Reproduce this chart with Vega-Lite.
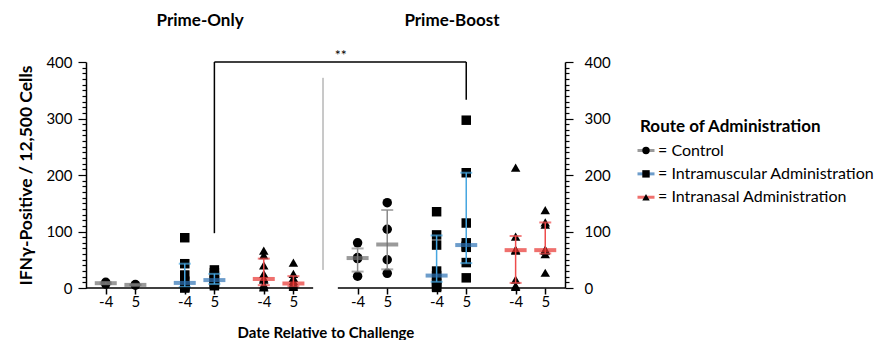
{
  "$schema": "https://vega.github.io/schema/vega-lite/v6.json",
  "background": "white",
  "padding": {"left": 17, "top": 11, "right": 0, "bottom": 0},
  "config": {"font": "Lato", "view": {"stroke": null}, "concat": {"spacing": 20}},
  "datasets": {
    "points": [
      {"grp": "PO|C|-4", "route": "Control", "value": 10},
      {"grp": "PO|C|-4", "route": "Control", "value": 7},
      {"grp": "PO|C|5", "route": "Control", "value": 6},
      {"grp": "PO|C|5", "route": "Control", "value": 5},
      {"grp": "PO|IM|-4", "route": "IM", "value": 89},
      {"grp": "PO|IM|-4", "route": "IM", "value": 43},
      {"grp": "PO|IM|-4", "route": "IM", "value": 23},
      {"grp": "PO|IM|-4", "route": "IM", "value": 12},
      {"grp": "PO|IM|-4", "route": "IM", "value": 5},
      {"grp": "PO|IM|-4", "route": "IM", "value": 3},
      {"grp": "PO|IM|-4", "route": "IM", "value": 1},
      {"grp": "PO|IM|-4", "route": "IM", "value": 0},
      {"grp": "PO|IM|5", "route": "IM", "value": 32},
      {"grp": "PO|IM|5", "route": "IM", "value": 27},
      {"grp": "PO|IM|5", "route": "IM", "value": 22},
      {"grp": "PO|IM|5", "route": "IM", "value": 15},
      {"grp": "PO|IM|5", "route": "IM", "value": 13},
      {"grp": "PO|IM|5", "route": "IM", "value": 10},
      {"grp": "PO|IM|5", "route": "IM", "value": 7},
      {"grp": "PO|IM|5", "route": "IM", "value": 4},
      {"grp": "PO|IN|-4", "route": "IN", "value": 66},
      {"grp": "PO|IN|-4", "route": "IN", "value": 58},
      {"grp": "PO|IN|-4", "route": "IN", "value": 40},
      {"grp": "PO|IN|-4", "route": "IN", "value": 25},
      {"grp": "PO|IN|-4", "route": "IN", "value": 17},
      {"grp": "PO|IN|-4", "route": "IN", "value": 15},
      {"grp": "PO|IN|-4", "route": "IN", "value": 6},
      {"grp": "PO|IN|-4", "route": "IN", "value": 3},
      {"grp": "PO|IN|-4", "route": "IN", "value": 1},
      {"grp": "PO|IN|5", "route": "IN", "value": 45},
      {"grp": "PO|IN|5", "route": "IN", "value": 25},
      {"grp": "PO|IN|5", "route": "IN", "value": 18},
      {"grp": "PO|IN|5", "route": "IN", "value": 12},
      {"grp": "PO|IN|5", "route": "IN", "value": 8},
      {"grp": "PO|IN|5", "route": "IN", "value": 6},
      {"grp": "PO|IN|5", "route": "IN", "value": 4},
      {"grp": "PO|IN|5", "route": "IN", "value": 2},
      {"grp": "PB|C|-4", "route": "Control", "value": 80},
      {"grp": "PB|C|-4", "route": "Control", "value": 54},
      {"grp": "PB|C|-4", "route": "Control", "value": 52},
      {"grp": "PB|C|-4", "route": "Control", "value": 21},
      {"grp": "PB|C|5", "route": "Control", "value": 151},
      {"grp": "PB|C|5", "route": "Control", "value": 104},
      {"grp": "PB|C|5", "route": "Control", "value": 50},
      {"grp": "PB|C|5", "route": "Control", "value": 26},
      {"grp": "PB|IM|-4", "route": "IM", "value": 135},
      {"grp": "PB|IM|-4", "route": "IM", "value": 94},
      {"grp": "PB|IM|-4", "route": "IM", "value": 76},
      {"grp": "PB|IM|-4", "route": "IM", "value": 30},
      {"grp": "PB|IM|-4", "route": "IM", "value": 22},
      {"grp": "PB|IM|-4", "route": "IM", "value": 15},
      {"grp": "PB|IM|-4", "route": "IM", "value": 8},
      {"grp": "PB|IM|-4", "route": "IM", "value": 3},
      {"grp": "PB|IM|-4", "route": "IM", "value": 1},
      {"grp": "PB|IM|5", "route": "IM", "value": 297},
      {"grp": "PB|IM|5", "route": "IM", "value": 204},
      {"grp": "PB|IM|5", "route": "IM", "value": 115},
      {"grp": "PB|IM|5", "route": "IM", "value": 80},
      {"grp": "PB|IM|5", "route": "IM", "value": 74},
      {"grp": "PB|IM|5", "route": "IM", "value": 72},
      {"grp": "PB|IM|5", "route": "IM", "value": 45},
      {"grp": "PB|IM|5", "route": "IM", "value": 18},
      {"grp": "PB|IN|-4", "route": "IN", "value": 213},
      {"grp": "PB|IN|-4", "route": "IN", "value": 91},
      {"grp": "PB|IN|-4", "route": "IN", "value": 68},
      {"grp": "PB|IN|-4", "route": "IN", "value": 66},
      {"grp": "PB|IN|-4", "route": "IN", "value": 15},
      {"grp": "PB|IN|-4", "route": "IN", "value": 4},
      {"grp": "PB|IN|-4", "route": "IN", "value": 2},
      {"grp": "PB|IN|5", "route": "IN", "value": 138},
      {"grp": "PB|IN|5", "route": "IN", "value": 116},
      {"grp": "PB|IN|5", "route": "IN", "value": 112},
      {"grp": "PB|IN|5", "route": "IN", "value": 68},
      {"grp": "PB|IN|5", "route": "IN", "value": 67},
      {"grp": "PB|IN|5", "route": "IN", "value": 66},
      {"grp": "PB|IN|5", "route": "IN", "value": 60},
      {"grp": "PB|IN|5", "route": "IN", "value": 27}
    ],
    "summary": [
      {"grp": "PO|C|-4", "route": "Control", "median": 8.5, "lo": 7, "hi": 10},
      {"grp": "PO|C|5", "route": "Control", "median": 5.5, "lo": 5, "hi": 6},
      {"grp": "PO|IM|-4", "route": "IM", "median": 9, "lo": 2, "hi": 43},
      {"grp": "PO|IM|5", "route": "IM", "median": 14, "lo": 7, "hi": 25},
      {"grp": "PO|IN|-4", "route": "IN", "median": 16, "lo": 5, "hi": 52},
      {"grp": "PO|IN|5", "route": "IN", "median": 8, "lo": 3, "hi": 21},
      {"grp": "PB|C|-4", "route": "Control", "median": 53, "lo": 29, "hi": 70},
      {"grp": "PB|C|5", "route": "Control", "median": 77, "lo": 33, "hi": 138},
      {"grp": "PB|IM|-4", "route": "IM", "median": 22, "lo": 11, "hi": 93},
      {"grp": "PB|IM|5", "route": "IM", "median": 76, "lo": 44, "hi": 204},
      {"grp": "PB|IN|-4", "route": "IN", "median": 67, "lo": 9, "hi": 92},
      {"grp": "PB|IN|5", "route": "IN", "median": 67, "lo": 61, "hi": 116}
    ],
    "lines": [
      {"kind": "axis", "grp": "s0", "grp2": "s46", "lo": 0, "hi": 0},
      {"kind": "axis", "grp": "s51", "grp2": "s97", "lo": 0, "hi": 0},
      {"kind": "divider", "grp": "s48", "grp2": "s48", "lo": 32, "hi": 372},
      {"kind": "bracket", "grp": "PO|IM|5", "grp2": "PO|IM|5", "lo": 97, "hi": 400},
      {"kind": "bracket", "grp": "PO|IM|5", "grp2": "PB|IM|5", "lo": 400, "hi": 400},
      {"kind": "bracket", "grp": "PB|IM|5", "grp2": "PB|IM|5", "lo": 333, "hi": 400}
    ],
    "stars": [{"grp": "s52", "value": 400, "text": "**"}],
    "legend": [
      {"route": "Control", "label": "= Control"},
      {"route": "IM", "label": "= Intramuscular Administration"},
      {"route": "IN", "label": "= Intranasal Administration"}
    ],
    "legendTitle": [{"route": "T", "label": "Route of Administration"}]
  },
  "hconcat": [
    {
      "width": 479,
      "height": 226,
      "layer": [
        {
          "data": {"name": "points"},
          "mark": {"type": "point", "filled": true, "opacity": 1, "color": "black"},
          "encoding": {
            "x": {
              "field": "grp", "type": "nominal",
              "scale": {"type": "point", "padding": 0, "domain": ["s0","s1","s2","s3","PO|C|-4","s5","s6","s7","s8","s9","PO|C|5","s11","s12","s13","s14","s15","s16","s17","s18","s19","PO|IM|-4","s21","s22","s23","s24","s25","PO|IM|5","s27","s28","s29","s30","s31","s32","s33","s34","s35","PO|IN|-4","s37","s38","s39","s40","s41","PO|IN|5","s43","s44","s45","s46","s47","s48","s49","s50","s51","s52","s53","s54","PB|C|-4","s56","s57","s58","s59","s60","PB|C|5","s62","s63","s64","s65","s66","s67","s68","s69","s70","PB|IM|-4","s72","s73","s74","s75","s76","PB|IM|5","s78","s79","s80","s81","s82","s83","s84","s85","s86","PB|IN|-4","s88","s89","s90","s91","s92","PB|IN|5","s94","s95","s96","s97"]},
              "axis": {
                "orient": "bottom",
                "values": ["PO|C|-4","PO|C|5","PO|IM|-4","PO|IM|5","PO|IN|-4","PO|IN|5","PB|C|-4","PB|C|5","PB|IM|-4","PB|IM|5","PB|IN|-4","PB|IN|5"],
                "labelExpr": "split(datum.value, '|')[2]",
                "domain": false, "ticks": true, "tickSize": 6, "tickWidth": 1.5, "tickColor": "black",
                "labelAngle": 0, "labelFontSize": 15, "labelColor": "black", "labelPadding": 0,
                "title": "Date Relative to Challenge", "titleFontSize": 15, "titleFontWeight": "bold",
                "titleColor": "black", "titlePadding": 16, "grid": false
              }
            },
            "y": {
              "field": "value", "type": "quantitative",
              "scale": {"domain": [0, 400], "nice": false, "zero": true},
              "axis": {
                "orient": "left",
                "values": [0,10,20,30,40,50,60,70,80,90,100,110,120,130,140,150,160,170,180,190,200,210,220,230,240,250,260,270,280,290,300,310,320,330,340,350,360,370,380,390,400],
                "labelExpr": "datum.value % 100 === 0 ? datum.label : ''",
                "tickSize": {"condition": {"test": "datum.value % 100 === 0", "value": 8}, "value": 4},
                "tickWidth": 1.2, "tickColor": "black", "domainColor": "black", "domainWidth": 1.5,
                "labelFontSize": 15, "labelColor": "black", "labelPadding": 6, "labelOverlap": false, "labelBound": false,
                "grid": false,
                "title": "IFNγ-Positive / 12,500 Cells", "titleFontSize": 17.5, "titleFontWeight": "bold", "titleColor": "black", "titlePadding": 10
              }
            },
            "shape": {"field": "route", "type": "nominal", "scale": {"domain": ["Control","IM","IN"], "range": ["circle","square","triangle-up"]}, "legend": null},
            "size": {"field": "route", "type": "ordinal", "scale": {"domain": ["Control","IM","IN"], "range": [90, 90, 115]}, "legend": null}
          }
        },
        {
          "data": {"name": "summary"},
          "mark": {"type": "rule", "strokeWidth": 1.5},
          "encoding": {
            "x": {
              "field": "grp", "type": "nominal",
              "axis": {
                "orient": "top", "values": ["s23", "s74"],
                "labelExpr": "datum.value == 's23' ? 'Prime-Only' : 'Prime-Boost'",
                "ticks": false, "tickSize": 0, "domain": false, "labelAngle": 0,
                "labelFontSize": 17, "labelFontWeight": "bold", "labelColor": "black", "labelPadding": 33,
                "title": null, "grid": false
              }
            },
            "y": {
              "field": "lo", "type": "quantitative",
              "axis": {
                "orient": "right",
                "values": [0,10,20,30,40,50,60,70,80,90,100,110,120,130,140,150,160,170,180,190,200,210,220,230,240,250,260,270,280,290,300,310,320,330,340,350,360,370,380,390,400],
                "labelExpr": "datum.value % 100 === 0 ? datum.label : ''",
                "tickSize": {"condition": {"test": "datum.value % 100 === 0", "value": 8}, "value": 4},
                "tickWidth": 1.2, "tickColor": "black", "domainColor": "black", "domainWidth": 1.5,
                "labelFontSize": 15, "labelColor": "black", "labelPadding": 11, "labelOverlap": false, "labelBound": false,
                "grid": false, "title": null
              }
            },
            "y2": {"field": "hi"},
            "color": {"field": "route", "type": "nominal", "scale": {"domain": ["Control","IM","IN"], "range": ["#8a8a8a","#45a5e0","#ee4c4c"]}, "legend": null}
          }
        },
        {
          "data": {"name": "summary"},
          "transform": [{"fold": ["lo", "hi"], "as": ["which", "cap"]}],
          "mark": {"type": "tick", "orient": "horizontal", "size": 12, "thickness": 2},
          "encoding": {
            "x": {"field": "grp", "type": "nominal", "axis": null},
            "y": {"field": "cap", "type": "quantitative", "axis": null},
            "color": {"field": "route", "type": "nominal", "scale": {"domain": ["Control","IM","IN"], "range": ["#8a8a8a","#45a5e0","#ee4c4c"]}, "legend": null}
          }
        },
        {
          "data": {"name": "summary"},
          "mark": {"type": "tick", "orient": "horizontal", "size": 22, "thickness": 4},
          "encoding": {
            "x": {"field": "grp", "type": "nominal", "axis": null},
            "y": {"field": "median", "type": "quantitative", "axis": null},
            "color": {"field": "route", "type": "nominal", "scale": {"domain": ["Control","IM","IN"], "range": ["#6f6f6f","#2f74b5","#e8332f"]}, "legend": null}
          }
        },
        {
          "data": {"name": "lines"},
          "transform": [{"filter": "datum.kind !== 'divider'"}],
          "mark": {"type": "rule", "color": "black", "strokeWidth": 1.5},
          "encoding": {
            "x": {"field": "grp", "type": "nominal", "axis": null},
            "x2": {"field": "grp2"},
            "y": {"field": "lo", "type": "quantitative", "axis": null},
            "y2": {"field": "hi"}
          }
        },
        {
          "data": {"name": "lines"},
          "transform": [{"filter": "datum.kind === 'divider'"}],
          "mark": {"type": "rule", "color": "#c8c8c8", "strokeWidth": 2},
          "encoding": {
            "x": {"field": "grp", "type": "nominal", "axis": null},
            "x2": {"field": "grp2"},
            "y": {"field": "lo", "type": "quantitative", "axis": null},
            "y2": {"field": "hi"}
          }
        },
        {
          "data": {"name": "stars"},
          "mark": {"type": "text", "fontSize": 14, "color": "black", "baseline": "alphabetic", "align": "center", "dy": -2, "dx": -2},
          "encoding": {
            "x": {"field": "grp", "type": "nominal", "axis": null},
            "y": {"field": "value", "type": "quantitative", "axis": null},
            "text": {"field": "text"}
          }
        }
      ],
      "resolve": {"axis": {"x": "independent", "y": "independent"}, "scale": {"color": "independent"}}
    },
    {
      "width": 30,
      "height": 142,
      "layer": [
        {
          "data": {"name": "legend"},
          "mark": {"type": "tick", "orient": "horizontal", "size": 17, "thickness": 3},
          "encoding": {
            "x": {"datum": "a", "type": "nominal", "scale": {"type": "point", "domain": ["v0","t","a","v3","b"], "padding": 0.5}, "axis": null},
            "y": {"field": "route", "type": "nominal", "scale": {"type": "point", "domain": ["u0","u1","u2","u3","u4","T","u6","Control","u8","IM","u10","IN"], "padding": 0.58}, "axis": null},
            "color": {"field": "route", "type": "nominal", "scale": {"domain": ["Control","IM","IN"], "range": ["#6f6f6f","#2f74b5","#e8332f"]}, "legend": null}
          }
        },
        {
          "data": {"name": "legend"},
          "mark": {"type": "point", "filled": true, "opacity": 1, "color": "black", "size": 55},
          "encoding": {
            "x": {"datum": "a", "type": "nominal", "axis": null},
            "y": {"field": "route", "type": "nominal", "axis": null},
            "shape": {"field": "route", "type": "nominal", "scale": {"domain": ["Control","IM","IN"], "range": ["circle","square","triangle-up"]}, "legend": null}
          }
        },
        {
          "data": {"name": "legend"},
          "mark": {"type": "text", "align": "left", "baseline": "middle", "fontSize": 16, "color": "black"},
          "encoding": {
            "x": {"datum": "b", "type": "nominal", "axis": null},
            "y": {"field": "route", "type": "nominal", "axis": null},
            "text": {"field": "label"}
          }
        },
        {
          "data": {"name": "legendTitle"},
          "mark": {"type": "text", "align": "left", "baseline": "middle", "fontSize": 17, "fontWeight": "bold", "color": "black"},
          "encoding": {
            "x": {"datum": "t", "type": "nominal", "axis": null},
            "y": {"field": "route", "type": "nominal", "axis": null},
            "text": {"field": "label"}
          }
        }
      ],
      "resolve": {"scale": {"color": "independent"}}
    }
  ],
  "resolve": {"scale": {"x": "independent", "y": "independent", "color": "independent", "shape": "independent", "size": "independent"}}
}
